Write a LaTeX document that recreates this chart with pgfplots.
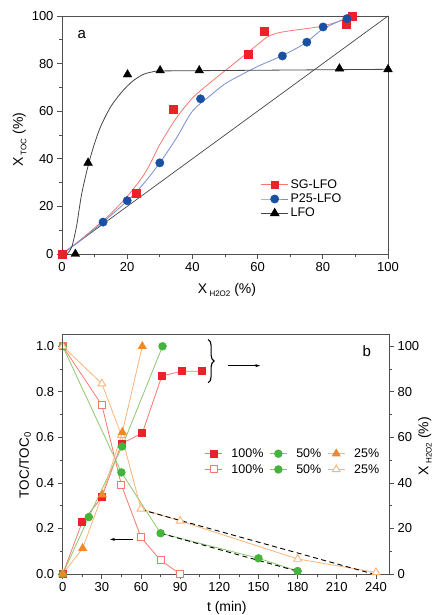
\documentclass[border=0pt]{standalone}
\usepackage{fontspec}
\setmainfont{Liberation Sans}
\usepackage{pgfplots}
\pgfplotsset{compat=1.18}
\usetikzlibrary{decorations.pathreplacing,arrows.meta}

\definecolor{redM}{RGB}{235,35,40}
\definecolor{redL}{RGB}{245,120,110}
\definecolor{blueM}{RGB}{25,80,165}
\definecolor{blueL}{RGB}{120,140,210}
\definecolor{darkL}{RGB}{70,70,70}
\definecolor{greenM}{RGB}{70,180,60}
\definecolor{greenL}{RGB}{140,200,110}
\definecolor{orangeM}{RGB}{245,135,40}
\definecolor{orangeL}{RGB}{250,180,120}
\definecolor{axcol}{RGB}{80,80,80}

\newcommand\sub[1]{\raisebox{-0.45ex}{\fontsize{8}{8}\selectfont #1}}
\newcommand\fs{\fontsize{13}{15}\selectfont}
\newcommand\fl{\fontsize{14}{16}\selectfont}

\pgfplotsset{
  common/.style={
    scale only axis,
    tick label style={font=\fs},
    /pgf/number format/assume math mode=true,
    tick align=outside,
    xtick pos=bottom,
    major tick length=5pt,
    minor tick length=3pt,
    minor x tick num=1,
    minor y tick num=1,
    axis line style={axcol, line width=0.9pt},
    every tick/.style={axcol, line width=0.8pt},
    clip=false,
  },
}

\begin{document}
\begin{tikzpicture}
\path[use as bounding box] (0,0) rectangle (433pt,615pt);

% ---------- panel a ----------
\begin{axis}[common,
  at={(62pt,361pt)}, anchor=south west,
  width=326pt, height=238pt,
  xmin=0, xmax=100, ymin=0, ymax=100,
  xtick={0,20,...,100}, ytick={0,20,...,100},
  ytick pos=left,
  every axis x label/.style={at={(axis description cs:0.506,-0.151)},anchor=center,font=\fl},
  every axis y label/.style={at={(axis description cs:-0.13,0.48)},rotate=90,anchor=center,font=\fl},
  xlabel={X\,\sub{H2O2} (\%)},
  ylabel={X\,\sub{TOC} (\%)},
  legend cell align=left,
  legend style={draw=none, fill=none, at={(0.6,0.33)}, anchor=north west,
    font=\fontsize{12.5}{14}\selectfont, row sep=0pt},
  legend image code/.code={\draw[mark repeat=2,mark phase=2] plot coordinates {(0pt,0pt)(13.5pt,0pt)(27pt,0pt)};},
]
\addlegendimage{redL, line width=0.8pt, mark=square*, mark size=3.8pt, mark options={redM, fill=redM, solid}}
\addlegendentry{SG-LFO}
\addlegendimage{blueL, line width=0.8pt, mark=*, mark size=4pt, mark options={blueM, fill=blueM, solid}}
\addlegendentry{P25-LFO}
\addlegendimage{darkL, line width=0.8pt, mark=triangle*, mark size=4.8pt, mark options={black, fill=black, solid}}
\addlegendentry{LFO}

% diagonal
\addplot[darkL, line width=0.7pt, forget plot] coordinates {(0,0) (100,100)};

% fitted curves
\addplot[redL, line width=0.8pt, smooth, forget plot] coordinates {
  (0,0) (5,5.2) (10,11) (15,17) (20,24.2) (25,33) (28,40.5) (30,46) (35,57)
  (40,65.5) (45,71.5) (50,77) (55,82.5) (60,88) (63,91.2) (66,92.8) (70,93.8)
  (80,95.8) (89,99.5)};
\addplot[blueL, line width=0.8pt, smooth, forget plot] coordinates {
  (0,0) (5,5) (10,10.5) (12.6,13.4) (20,22.3) (25,29.5) (30,38.3) (35,48.5)
  (40,60) (45,66) (50,71.5) (55,75.3) (60,78.8) (65,81.8) (70,85) (75,89)
  (80,94.5) (87,99)};
\addplot[darkL, line width=0.8pt, smooth, forget plot] coordinates {
  (1.5,0) (3,3) (4.5,12) (6,25) (8,37) (10,46.5) (12,54) (15,62) (18,67.5)
  (20,70.5) (22,73) (25,75.5) (28,76.6) (30,76.9) (40,77) (60,77.2) (100,77.6)};

% data
\addplot[only marks, mark=square*, mark size=4pt, redM, fill=redM, forget plot] coordinates {
  (0,0) (22.9,25.6) (34.0,60.7) (57.1,83.8) (62.1,93.8) (87.2,96.6) (89.1,100)};
\addplot[only marks, mark=*, mark size=4.2pt, blueM, fill=blueM, forget plot] coordinates {
  (12.6,13.4) (20,22.4) (30,38.3) (42.5,65.2) (67.6,83.2) (75.1,89) (80.1,95.4) (87.4,98.9)};
\addplot[only marks, mark=triangle*, mark size=5pt, black, fill=black, forget plot] coordinates {
  (4.1,0) (8,38.3) (20.1,75.4) (30.1,77.1) (42.1,77.1) (85.1,77.9) (100,77.6)};

\node[font=\fontsize{15}{17}\selectfont] at (axis cs:6.1,92.4) {a};
\end{axis}

% ---------- panel b, left axis (TOC/TOC0) ----------
\begin{axis}[common,
  at={(62.7pt,41pt)}, anchor=south west,
  width=326.3pt, height=240pt,
  xmin=0, xmax=250, ymin=0, ymax=1.054,
  xtick={0,30,...,240}, ytick={0,0.2,...,1.0},
  ytick pos=left,
  yticklabel style={/pgf/number format/.cd, fixed, fixed zerofill, precision=1},
  every axis x label/.style={at={(axis description cs:0.503,-0.142)},anchor=center,font=\fl},
  every axis y label/.style={at={(axis description cs:-0.1155,0.454)},rotate=90,anchor=center,font=\fontsize{13.5}{16}\selectfont},
  xlabel={t (min)},
  ylabel={TOC/TOC\textsubscript{0}},
  legend cell align=left,
  legend style={draw=none, fill=none, at={(0.425,0.54)}, anchor=north west,
    font=\fontsize{12.5}{14}\selectfont, legend columns=3, row sep=1.5pt,
    /tikz/every odd column/.append style={column sep=7pt},
    /tikz/every even column/.append style={column sep=4pt}},
]
\addlegendimage{redL, line width=0.8pt, mark=square*, mark size=3.5pt, mark options={redM, fill=redM, solid}}
\addlegendentry{100\%}
\addlegendimage{greenL, line width=0.8pt, mark=*, mark size=3.8pt, mark options={greenM, fill=greenM, solid}}
\addlegendentry{50\%}
\addlegendimage{orangeL, line width=0.8pt, mark=triangle*, mark size=4.5pt, mark options={orangeM, fill=orangeM, solid}}
\addlegendentry{25\%}

\addplot[redL, line width=0.8pt, mark=square*, mark size=3.5pt, mark options={redL, fill=white, line width=0.9pt}] coordinates {
  (0,1.0) (30,0.742) (45,0.39) (60,0.161) (75,0.06) (90,0)};
\addlegendentry{100\%}
\addplot[greenL, line width=0.8pt, mark=*, mark size=3.8pt, mark options={greenM, fill=greenM}] coordinates {
  (0,1.0) (45,0.446) (75,0.179) (150,0.069) (180,0.013)};
\addlegendentry{50\%}
\addplot[orangeL, line width=0.8pt, mark=triangle*, mark size=4.5pt, mark options={orangeL, fill=white, line width=0.9pt}] coordinates {
  (0,1.0) (30,0.836) (45,0.61) (60,0.286) (90,0.233) (180,0.066) (240,0.007)};
\addlegendentry{25\%}

% linear fits
\addplot[black, line width=0.9pt, dash pattern=on 5pt off 3.5pt, forget plot] coordinates {(60,0.283) (238,0)};
\addplot[black, line width=0.9pt, dash pattern=on 5pt off 3.5pt, forget plot] coordinates {(75,0.179) (180,0.012)};

% brace and arrows
\draw[line width=1.1pt, decorate, decoration={brace, amplitude=6pt}] (axis cs:111.4,1.03) -- (axis cs:111.4,0.84);
\draw[-{Stealth[length=5pt,width=3pt]}, line width=0.5pt] (axis cs:126.5,0.915) -- (axis cs:151.3,0.915);
\draw[-{Stealth[length=5pt,width=3pt]}, line width=0.5pt] (axis cs:54.2,0.152) -- (axis cs:36.3,0.152);
\node[font=\fontsize{15}{17}\selectfont] at (axis cs:233,0.978) {b};
\end{axis}

% ---------- panel b, right axis (X_H2O2) ----------
\begin{axis}[common,
  at={(62.7pt,41pt)}, anchor=south west,
  width=326.3pt, height=240pt,
  xmin=0, xmax=250, ymin=0, ymax=105.4,
  hide x axis,
  ytick={0,20,...,100},
  ytick pos=right, yticklabel pos=right,
  every axis y label/.style={at={(axis description cs:1.11,0.533)},rotate=90,anchor=center,font=\fl},
  ylabel={X\,\sub{H2O2} (\%)},
]
\addplot[redL, line width=0.8pt, mark=square*, mark size=3.5pt, mark options={redM, fill=redM}] coordinates {
  (0,0) (15,22.9) (30,33.7) (45,57.2) (61,61.9) (76,87) (91,89) (107,89)};
\addplot[greenL, line width=0.8pt, mark=*, mark size=3.8pt, mark options={greenM, fill=greenM}] coordinates {
  (0,0) (20,25) (45.5,56) (76.5,100)};
\addplot[orangeL, line width=0.8pt, mark=triangle*, mark size=4.5pt, mark options={orangeM, fill=orangeM}] coordinates {
  (0,0) (15.3,11.3) (30.4,34.8) (45.7,62.3) (61,100)};
\end{axis}
\end{tikzpicture}
\end{document}
